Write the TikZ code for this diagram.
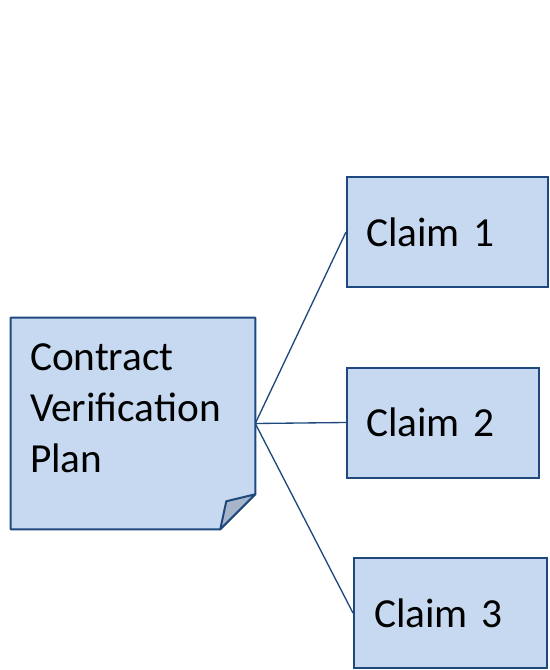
\documentclass[tikz,border=0pt]{standalone}
\usepackage{fontspec}
\setmainfont{Carlito}[WordSpace=0.8]
\usetikzlibrary{backgrounds}
\definecolor{boxfill}{HTML}{C6D9F1}
\definecolor{boxline}{HTML}{1F497D}
\definecolor{foldfill}{HTML}{A6B5C9}
\tikzset{
  claimbox/.style={draw=boxline, line width=1.5pt, fill=boxfill, minimum height=82.5pt,
    inner xsep=14.25pt, text width=#1, align=left, font=\fontsize{31}{38}\selectfont},
  planbox/.style={minimum width=183pt, minimum height=158.25pt, inner xsep=14.25pt,
    text width=154.5pt, text depth=99pt, align=left, font=\fontsize{31}{38}\selectfont},
  link/.style={draw=boxline, line width=1pt}
}
\begin{document}
\begin{tikzpicture}[x=0.75pt,y=-0.75pt]
\useasboundingbox (0,0) rectangle (549,670);
\node[planbox] (plan) at (133,423.5) {Contract\\Verification\\Plan};
\node[claimbox=122.25pt] (claim1) at (447.5,232) {Claim 1};
\node[claimbox=115.5pt] (claim2) at (443,422.5) {Claim 2};
\node[claimbox=114.75pt, inner xsep=15pt] (claim3) at (450.5,613) {Claim 3};
% note with a turned-down corner
\begin{pgfonlayer}{background}
\filldraw[draw=boxline, line width=1.5pt, fill=boxfill, line join=round]
  (plan.north west) -- (plan.north east) -- ([yshift=26.25pt]plan.south east)
  -- ([xshift=-26.25pt]plan.south east) -- (plan.south west) -- cycle;
\filldraw[draw=boxline, line width=1.5pt, fill=foldfill, line join=round]
  ([yshift=26.25pt]plan.south east) -- ([shift={(-29,-28)}]plan.south east)
  -- ([xshift=-26.25pt]plan.south east) -- cycle;
\end{pgfonlayer}
\draw[link] (plan.east) -- (claim1.west);
\draw[link] (plan.east) -- (claim2.west);
\draw[link] (plan.east) -- (claim3.west);
\end{tikzpicture}
\end{document}
